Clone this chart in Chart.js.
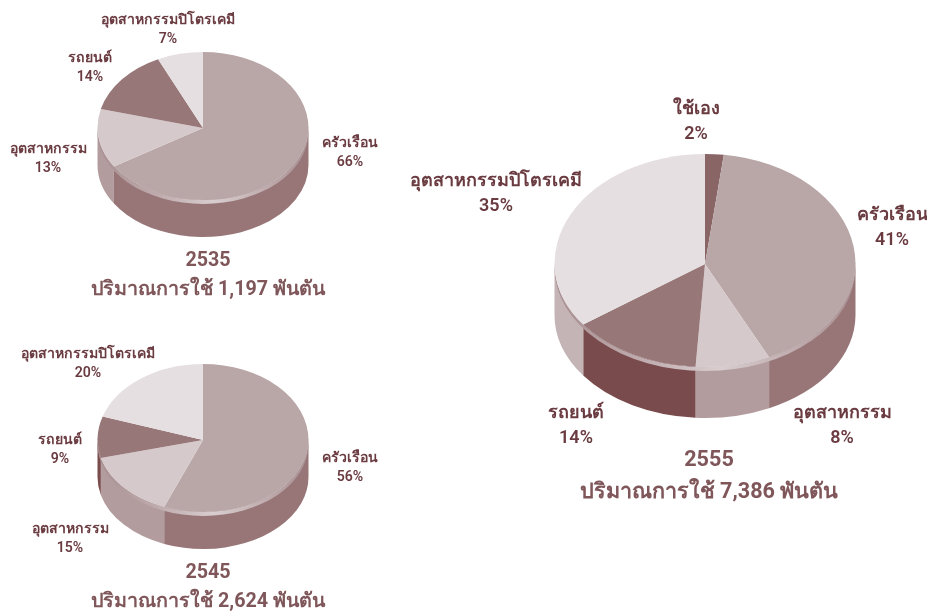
<!DOCTYPE html>
<html>
<head>
<meta charset="utf-8">
<script src="https://cdn.jsdelivr.net/npm/chart.js@4"></script>
<style>
html,body{margin:0;padding:0;background:#fff;}
#wrap{position:relative;width:927px;height:611px;overflow:hidden;}
canvas{position:absolute;left:0;top:0;}
</style>
</head>
<body>
<div id="wrap">
<canvas id="c1" width="927" height="611"></canvas>
<canvas id="c2" width="927" height="611"></canvas>
<canvas id="c3" width="927" height="611"></canvas>
</div>
<script>
// ---- data ----
const names2535 = ["ครัวเรือน","อุตสาหกรรม","รถยนต์","อุตสาหกรรมปิโตรเคมี"];
const values2535 = [66,13,14,7];
const names2545 = ["ครัวเรือน","อุตสาหกรรม","รถยนต์","อุตสาหกรรมปิโตรเคมี"];
const values2545 = [56,15,9,20];
const names2555 = ["ใช้เอง","ครัวเรือน","อุตสาหกรรม","รถยนต์","อุตสาหกรรมปิโตรเคมี"];
const values2555 = [2,41,8,14,35];
const titles2535 = ["2535","ปริมาณการใช้ 1,197 พันตัน"];
const titles2545 = ["2545","ปริมาณการใช้ 2,624 พันตัน"];
const titles2555 = ["2555","ปริมาณการใช้ 7,386 พันตัน"];

// ---- styles and layout ----
const topColors = {"ใช้เอง":"#8a6566","ครัวเรือน":"#b9a6a7","อุตสาหกรรม":"#d5c9cb","รถยนต์":"#987778","อุตสาหกรรมปิโตรเคมี":"#e6dfe1"};
const wallColors = {"ใช้เอง":"#7a4b4d","ครัวเรือน":"#987677","อุตสาหกรรม":"#b39c9e","รถยนต์":"#7a4b4d","อุตสาหกรรมปิโตรเคมี":"#c5b4b6"};
const LABEL_COLOR = "#6a3b40", TITLE_COLOR = "#7f5659";
const FONT = 'Roboto, "Noto Sans", sans-serif';

function pie(id, names, values, titles, g) {
  const W = 927, H = 611;
  const plugin = {
    id: "pie3d",
    beforeDatasetDraw(chart) {
      const ctx = chart.ctx, meta = chart.getDatasetMeta(0), arcs = meta.data;
      const a0 = arcs[0], x = a0.x, y = a0.y, rx = a0.outerRadius, ryL = g.ryLow, ryU = g.ryUp;
      ctx.save();
      // side wall: the front half of each slice's rim, extruded downward
      arcs.forEach((a, i) => {
        const PI2 = Math.PI * 2;
        for (const shift of [0, PI2]) {
          const s = Math.max(a.startAngle + shift, 0), e = Math.min(a.endAngle + shift, Math.PI);
          if (e <= s) continue;
          ctx.beginPath();
          ctx.ellipse(x, y, rx, ryL, 0, s, e, false);
          ctx.ellipse(x, y + g.depth, rx, ryL, 0, e, s, true);
          ctx.closePath();
          ctx.fillStyle = wallColors[names[i]];
          ctx.fill();
        }
      });
      // bevel rim below the top face
      const grad = ctx.createLinearGradient(x - rx, 0, x + rx, 0);
      grad.addColorStop(0, "#a88f91");
      grad.addColorStop(0.3, "#c0adaf");
      grad.addColorStop(0.55, "#d8cdcf");
      grad.addColorStop(0.8, "#bfacae");
      grad.addColorStop(1, "#a88f91");
      ctx.beginPath();
      ctx.ellipse(x, y + g.rim, rx, ryL, 0, 0, Math.PI, false);
      ctx.ellipse(x, y, rx, ryL, 0, Math.PI, 0, true);
      ctx.closePath();
      ctx.fillStyle = grad;
      ctx.fill();
      ctx.restore();
      // the library's own arcs, foreshortened: front half, then back half
      const half = (clipY, clipH, k) => {
        ctx.save();
        ctx.beginPath();
        ctx.rect(x - rx - 2, clipY, 2 * rx + 4, clipH);
        ctx.clip();
        ctx.translate(x, y);
        ctx.scale(1, k);
        ctx.translate(-x, -y);
        meta.controller.draw();
        ctx.restore();
      };
      half(y - 0.5, rx + 2, ryL / rx);
      half(y - rx - 2, rx + 2, ryU / rx);
      return false;
    },
    afterDraw(chart) {
      const ctx = chart.ctx;
      ctx.save();
      ctx.textAlign = "center";
      ctx.textBaseline = "middle";
      ctx.fillStyle = LABEL_COLOR;
      ctx.font = "600 " + g.labelSize + "px " + FONT;
      names.forEach((n, i) => {
        const p = g.labels[i];
        ctx.fillText(n, p[0], p[1]);
        ctx.fillText(values[i] + "%", p[0], p[1] + g.labelGap);
      });
      ctx.fillStyle = TITLE_COLOR;
      ctx.font = "700 " + g.titleSize + "px " + FONT;
      ctx.fillText(titles[0], g.title[0], g.title[1]);
      ctx.fillText(titles[1], g.title[0], g.title[1] + g.titleGap);
      ctx.restore();
    }
  };
  return new Chart(document.getElementById(id), {
    type: "pie",
    data: { labels: names, datasets: [{
      data: values,
      backgroundColor: names.map(n => topColors[n]),
      borderWidth: 0
    }]},
    options: {
      responsive: false,
      animation: false,
      rotation: 0,
      layout: { padding: { left: g.cx - g.r, right: W - g.cx - g.r, top: g.cy - g.r, bottom: H - g.cy - g.r } },
      plugins: { legend: { display: false }, tooltip: { enabled: false }, title: { display: false } }
    },
    plugins: [plugin]
  });
}

pie("c1", names2535, values2535, titles2535, {
  cx: 203, cy: 128, r: 105.5, ryUp: 76, ryLow: 72, depth: 37, rim: 4, labelSize: 14.1, labelGap: 19, titleSize: 19.7, titleGap: 29,
  title: [208, 261],
  labels: [[350,143],[48,149],[90,58],[168,20]]
});
pie("c2", names2545, values2545, titles2545, {
  cx: 203, cy: 440, r: 105.5, ryUp: 76, ryLow: 72, depth: 37, rim: 4, labelSize: 14.1, labelGap: 19, titleSize: 19.7, titleGap: 29,
  title: [208, 573],
  labels: [[350,458],[70,529],[60,440],[88,354]]
});
pie("c3", names2555, values2555, titles2555, {
  cx: 705, cy: 264, r: 150.5, ryUp: 110, ryLow: 103, depth: 51, rim: 4, labelSize: 18, labelGap: 25, titleSize: 21.6, titleGap: 32,
  title: [709, 461],
  labels: [[696,109],[892,215],[842,413],[576,413],[496,181]]
});
</script>
</body>
</html>
